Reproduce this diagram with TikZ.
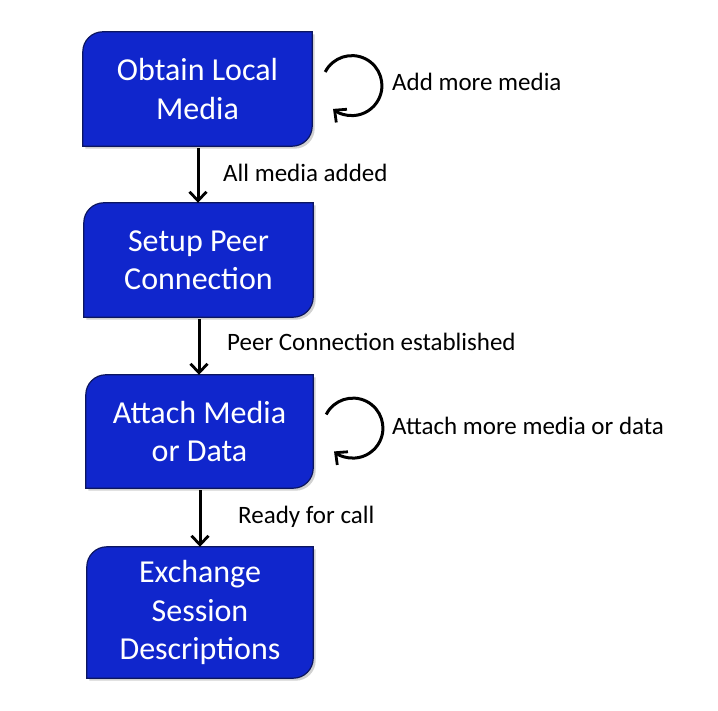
\documentclass[tikz,border=0pt]{standalone}
\usepackage{fontspec}
\setmainfont{Carlito}
\usetikzlibrary{arrows.meta,calc}
\definecolor{boxblue}{RGB}{16,38,204}
\definecolor{boxedge}{RGB}{12,22,95}
\tikzset{
  stepbox/.style={minimum width=#1, inner sep=0pt, text=white, align=center,
    font=\fontsize{32}{38.5}\selectfont},
  steplabel/.style={anchor=west, inner sep=0pt, font=\fontsize{25}{30}\selectfont},
  flowarrow/.style={line width=3pt, -{Straight Barb[length=9pt,width=17pt,line width=2.8pt]}},
  boxshape/.style={fill=boxblue, draw=boxedge, line width=1.2pt},
  boxshadow/.style={fill=black, opacity=0.18},
}
\newcommand{\stepshape}[2]{%
  \path[boxshadow] ([shift={(2.5,-2.5)}]#1.south west) -- ([shift={(2.5,-22.5)}]#1.north west)
    arc[start angle=180,end angle=90,radius=20pt] -- ([shift={(2.5,-2.5)}]#1.north east)
    -- ([shift={(2.5,17.5)}]#1.south east) arc[start angle=0,end angle=-90,radius=20pt] -- cycle;
  \path[boxshape] (#1.south west) -- ([yshift=-20pt]#1.north west)
    arc[start angle=180,end angle=90,radius=20pt] -- (#1.north east)
    -- ([yshift=20pt]#1.south east) arc[start angle=0,end angle=-90,radius=20pt] -- cycle;
  \node[stepbox=#2] at (#1.center) {\nodetext};
}
\begin{document}
\begin{tikzpicture}[x=1pt,y=1pt]
\useasboundingbox (0,0) rectangle (718,710);
\fill[white] (0,0) rectangle (718,710);
% invisible placeholders for geometry
\node[minimum width=229pt, minimum height=114pt, inner sep=0pt] (b1) at (197.5,621) {};
\node[minimum width=229pt, minimum height=114pt, inner sep=0pt] (b2) at (198.5,450) {};
\node[minimum width=227pt, minimum height=113pt, inner sep=0pt] (b3) at (199.5,278.5) {};
\node[minimum width=226pt, minimum height=131pt, inner sep=0pt] (b4) at (200,97.5) {};
\def\nodetext{Obtain Local\\Media}\stepshape{b1}{229pt}
\def\nodetext{Setup Peer\\Connection}\stepshape{b2}{229pt}
\def\nodetext{Attach Media\\or Data}\stepshape{b3}{227pt}
\def\nodetext{Exchange\\Session\\Descriptions}\stepshape{b4}{226pt}
% connectors
\draw[flowarrow] ([yshift=-2pt]b1.south -| 198,0) -- (b2.north -| 198,0);
\draw[flowarrow] ([yshift=-2pt]b2.south -| 199,0) -- (b3.north -| 199,0);
\draw[flowarrow] ([yshift=-2pt]b3.south -| 200,0) -- (b4.north -| 200,0);
% self loops
\coordinate (l1) at ($(b1.east)+(13,17)$);
\coordinate (l3) at ($(b3.east)+(13,17)$);
\draw[flowarrow] (l1) arc[start angle=153,end angle=-129,radius=30pt];
\draw[flowarrow] (l3) arc[start angle=153,end angle=-129,radius=30pt];
% labels
\node[steplabel] (t1) at (392,628) {Add more media};
\node[steplabel] (t2) at (223,537) {All media added};
\node[steplabel] (t3) at (227,368) {Peer Connection established};
\node[steplabel] (t4) at (392,284) {Attach more media or data};
\node[steplabel] (t5) at (238,193) {Ready for call};
\end{tikzpicture}
\end{document}
